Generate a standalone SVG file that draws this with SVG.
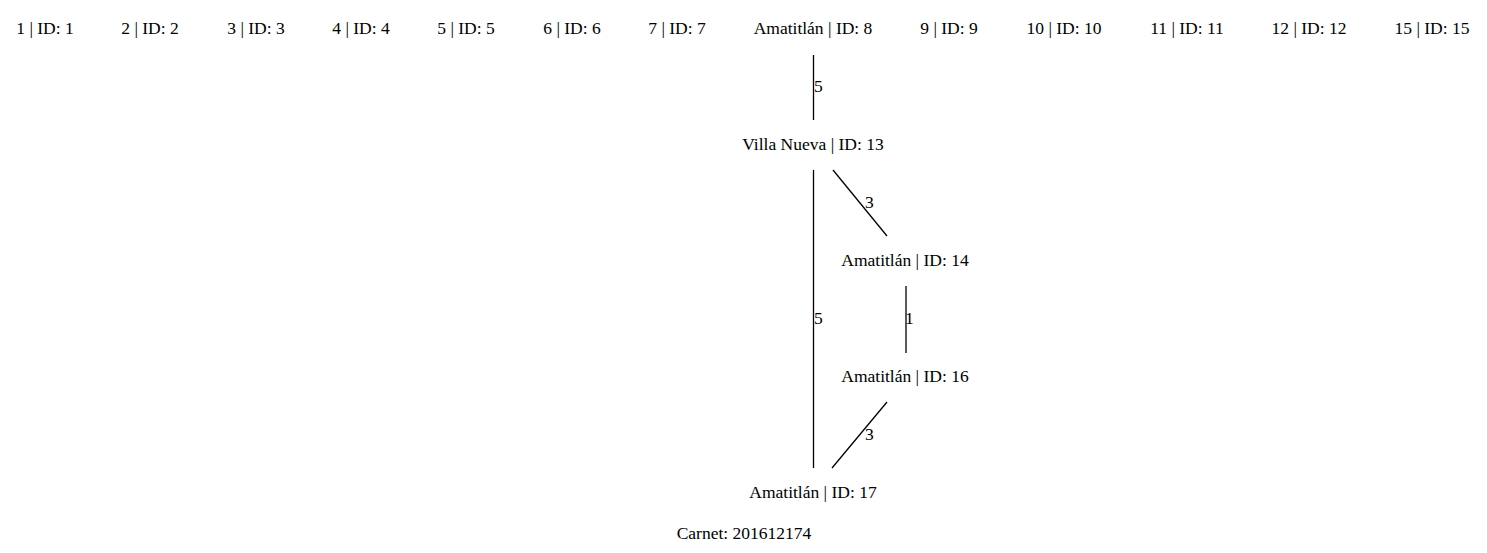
<svg xmlns="http://www.w3.org/2000/svg" width="1487" height="553" viewBox="0 0 1487 553">
<style>
text{font-family:"Liberation Serif","Times New Roman",serif;font-size:17.5px;fill:#000}
.n text{text-anchor:middle}
.e line{stroke:#000;stroke-width:1.3}
.e text{text-anchor:start}
</style>
<rect width="1487" height="553" fill="#fff"/>
<g class="n">
<g id="n1"><text x="45" y="34">1 | ID: 1</text></g>
<g id="n2"><text x="150" y="34">2 | ID: 2</text></g>
<g id="n3"><text x="256" y="34">3 | ID: 3</text></g>
<g id="n4"><text x="361" y="34">4 | ID: 4</text></g>
<g id="n5"><text x="466" y="34">5 | ID: 5</text></g>
<g id="n6"><text x="572" y="34">6 | ID: 6</text></g>
<g id="n7"><text x="677" y="34">7 | ID: 7</text></g>
<g id="n8"><text x="813" y="34">Amatitlán | ID: 8</text></g>
<g id="n9"><text x="949" y="34">9 | ID: 9</text></g>
<g id="n10"><text x="1064" y="34">10 | ID: 10</text></g>
<g id="n11"><text x="1187" y="34">11 | ID: 11</text></g>
<g id="n12"><text x="1309" y="34">12 | ID: 12</text></g>
<g id="n15"><text x="1432" y="34">15 | ID: 15</text></g>
<g id="n13"><text x="813" y="150">Villa Nueva | ID: 13</text></g>
<g id="n14"><text x="905" y="266">Amatitlán | ID: 14</text></g>
<g id="n16"><text x="905" y="382">Amatitlán | ID: 16</text></g>
<g id="n17"><text x="813" y="498">Amatitlán | ID: 17</text></g>
<g id="carnet"><text x="744" y="539">Carnet: 201612174</text></g>
</g>
<g class="e" id="connectors">
<line x1="813.5" y1="55" x2="813.5" y2="120"/>
<text x="814" y="92">5</text>
<line x1="813.5" y1="170" x2="813.5" y2="468"/>
<text x="814" y="324">5</text>
<line x1="833" y1="170" x2="887" y2="236"/>
<text x="865" y="208">3</text>
<line x1="906" y1="286" x2="906" y2="353"/>
<text x="905" y="324">1</text>
<line x1="887" y1="402" x2="832" y2="468"/>
<text x="865" y="440">3</text>
</g>
</svg>
